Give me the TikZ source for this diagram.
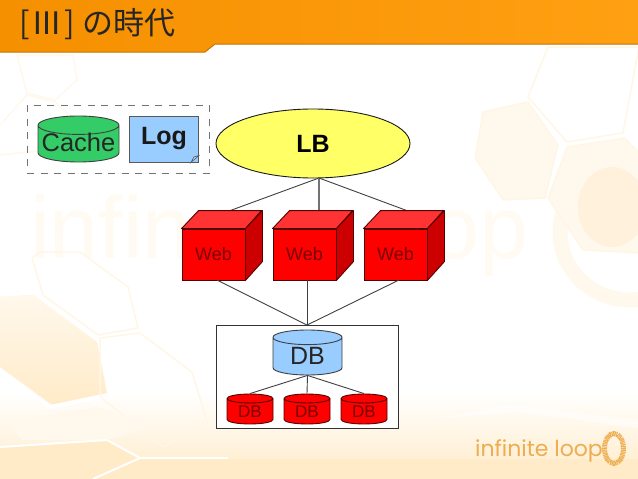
\documentclass[tikz,border=0pt]{standalone}
\usepackage{fontspec}
\setmainfont{Liberation Sans}
\newfontfamily\cjkfont{Noto Sans CJK JP}
\newfontfamily\logofont{Poppins}
\usepackage{xcolor}
\usetikzlibrary{shapes.geometric, calc, positioning}
\definecolor{plotBar}{HTML}{FFA012}
\definecolor{plotBarDark}{HTML}{F59000}
\definecolor{plotRed}{HTML}{FF0000}
\definecolor{plotWebText}{HTML}{770000}
\definecolor{plotBlue}{HTML}{99CCFF}
\definecolor{plotGreen}{HTML}{33CC66}
\definecolor{plotYellow}{HTML}{FFFF66}
\definecolor{plotHex}{HTML}{FFF6E6}
\definecolor{plotHexFill}{HTML}{FFF8EC}
\definecolor{plotRing}{HTML}{FFF1DC}
\definecolor{plotMark}{HTML}{FFFAF2}
\definecolor{plotSand}{HTML}{FFEBC8}
\definecolor{plotLogo}{HTML}{EDAD50}
\begin{document}
\begin{tikzpicture}[x=1pt, y=-1pt,
    conn/.style={draw=black!75, line width=0.9pt},
    connmid/.style={draw=gray!90!black, line width=1.1pt},
    web/.style={rectangle, draw=plotWebText!70!black, fill=plotRed, minimum width=63pt, minimum height=51pt,
      inner sep=0pt, line width=0.9pt, text=plotWebText, font=\fontsize{18}{20}\selectfont},
    webtop/.style={draw=plotWebText!70!black, fill=red!80!white, line width=0.9pt, line join=round},
    webside/.style={draw=plotWebText!70!black, fill=red!80!black, line width=0.9pt, line join=round},
    drum/.style={cylinder, shape border rotate=90, draw=black!75, inner sep=0pt, line width=0.9pt,
      anchor=shape center, cylinder uses custom fill},
    smalldb/.style={drum, aspect=0.38, draw=plotWebText!70!black, cylinder body fill=plotRed, cylinder end fill=plotRed,
      minimum width=46pt, minimum height=30pt, text=plotWebText, font=\fontsize{17}{19}\selectfont},
    watermark/.style={font=\fontsize{88}{90}\selectfont, text=plotMark, inner sep=0pt, anchor=base west},
    hexline/.style={draw=plotHex, line width=1.5pt, line join=round},
    hexfill/.style={hexline, fill=plotHexFill},
    gap/.style={draw=white, line width=2pt}
  ]
  \useasboundingbox (0,0) rectangle (638,479);
  % === Background ===
  \shade[top color=white, bottom color=plotSand] (0,392) rectangle (638,479);
  \node[watermark] (markleft) at (30,258) {infin};
  \node[watermark] (markright) at (430,258) {op};
  \draw[draw=plotHexFill, line width=1.5pt] (17,55) -- (73,55) -- (77,80) -- (55,100) -- (27,93) -- cycle;
  \draw[draw=plotHexFill, line width=1.5pt] (0,125) -- (27,95) -- (55,102) -- (75,120) -- (50,150) -- (0,155);
  \draw[draw=plotHexFill, line width=15pt] (630,232) ellipse (70pt and 68pt);
  \draw[hexline] (528,97) -- (548,47) -- (639,47) -- (623,133) -- (567,142) -- cycle;
  \draw[hexfill] (483,112) -- (528,102) -- (558,145) -- (545,198) -- (503,200) -- (475,158) -- cycle;
  \draw[hexfill] (567,147) -- (625,138) -- (639,153) -- (639,253) -- (583,250) -- (548,198) -- cycle;
  \fill[plotRing] (612,207) ellipse (34pt and 40pt);
  \draw[hexline] (40,252) -- (80,252) -- (128,287) -- (138,328) -- (98,335) -- (43,295) -- (32,258) -- cycle;
  \shade[top color=plotHexFill, bottom color=plotSand, draw=plotHex] (0,297) -- (33,295) -- (97,342) -- (107,393) -- (52,405) -- (0,367) -- cycle;
  \draw[hexline] (100,338) -- (140,333) -- (192,372) -- (208,425) -- (163,447) -- (100,397) -- cycle;
  \fill[plotHexFill] (5,422) -- (97,407) -- (150,427) -- (107,440) -- (23,440) -- cycle;
  \fill[plotSand] (0,447) -- (107,440) -- (140,458) -- (93,479) -- (0,479) -- cycle;
  \fill[plotSand] (140,459) -- (638,459) -- (638,479) -- (95,479) -- cycle;
  \draw[gap] (0,447) -- (107,440) -- (140,458) -- (93,479);
  \draw[gap] (140,458) -- (228,458);
  \draw[gap, line width=4pt] (0,372) -- (50,407) -- (100,397);
  \fill[white, opacity=0.55] (440,418) -- (510,405) -- (638,420) -- (638,428) -- (520,412) -- cycle;

  % === Logo ===
  \node[font=\logofont\fontsize{22}{24}\selectfont, text=plotLogo, inner sep=0pt, anchor=base west] (logo) at (475,456) {infinite loop};
  \node[ellipse, draw=plotLogo, line width=5pt, dash pattern=on 1pt off 0.6pt, minimum width=19pt, minimum height=30pt, inner sep=0pt] (logoring) at (614,448.5) {};

  % === Title ===
  \path[left color=plotBarDark, right color=plotBar, draw=plotBarDark!80!black, line width=1pt]
    (-1,-1) -- (639,-1) -- (639,44) -- (215,44) -- (205,52) -- (-1,52) -- cycle;
  \node[font=\cjkfont\fontsize{31}{33}\selectfont, text=black!85, anchor=west, inner sep=0pt] (title) at (19,24) {[\kern2ptⅢ\kern2pt] の時代};

  % === Cache and Log ===
  \node[rectangle, draw=black!55, dash pattern=on 7pt off 6.5pt, line width=1pt,
    minimum width=182pt, minimum height=68pt] (spare) at (118,139) {};
  \node[drum, aspect=0.25, cylinder body fill=plotGreen, cylinder end fill=plotGreen, minimum width=81pt, minimum height=46pt,
    text=black!85, font=\fontsize{25.5}{28}\selectfont] (cache) at (78.5,139) {\smash{\raisebox{-8pt}{Cache}}};
  \node[rectangle, draw=black!65, fill=plotBlue, minimum width=69pt, minimum height=46pt, inner sep=0pt,
    text=black!90, font=\bfseries\fontsize{25}{27}\selectfont, line width=0.9pt] (log) at (164,139) {\raisebox{3pt}{Log}};
  \draw[draw=black!65, fill=plotBlue!75!white, line width=0.6pt] (log.south east) ++(-8,0) -- ++(8,-7) -- ++(-5,1.5) -- cycle;

  % === LB ===
  \node[ellipse, draw=black!90, fill=plotYellow, minimum width=194pt, minimum height=69pt, inner sep=0pt,
    line width=0.9pt, font=\bfseries\fontsize{25}{27}\selectfont] (lb) at (313,143.5) {LB};
  \coordinate (lbhub) at (319,178);

  % === Web ===
  \coordinate (web1in) at (229,211);
  \coordinate (web2in) at (319,211);
  \coordinate (web3in) at (408,211);
  \draw[conn] (lbhub)--(web1in); \draw[connmid] (lbhub)--(web2in); \draw[conn] (lbhub)--(web3in);
  \node[web] (web1) at (213.5,254.5) {Web};
  \draw[webtop] (web1.north west) -- ++(17,-18) -- ++(63,0) -- (web1.north east) -- cycle;
  \draw[webside] (web1.north east) -- ++(17,-18) -- ++(0,51) -- (web1.south east) -- cycle;
  \node[web] (web2) at (304.5,254.5) {Web};
  \draw[webtop] (web2.north west) -- ++(17,-18) -- ++(63,0) -- (web2.north east) -- cycle;
  \draw[webside] (web2.north east) -- ++(17,-18) -- ++(0,51) -- (web2.south east) -- cycle;
  \node[web] (web3) at (395.5,254.5) {Web};
  \draw[webtop] (web3.north west) -- ++(17,-18) -- ++(63,0) -- (web3.north east) -- cycle;
  \draw[webside] (web3.north east) -- ++(17,-18) -- ++(0,51) -- (web3.south east) -- cycle;

  % === DB ===
  \node[rectangle, draw=black!80, fill=white, minimum width=182pt, minimum height=103pt, line width=0.9pt] (dbbox) at (307,377) {};
  \coordinate (web1out) at (217,280);
  \coordinate (web2out) at (307,280);
  \coordinate (web3out) at (399,280);
  \draw[conn] (web1out)--(dbbox.north); \draw[conn] (web2out)--(dbbox.north); \draw[conn] (web3out)--(dbbox.north);
  \node[drum, aspect=0.42, cylinder body fill=plotBlue, cylinder end fill=plotBlue, minimum width=69pt, minimum height=45pt,
    text=black!85, font=\fontsize{25}{27}\selectfont] (dbmain) at (307.5,352.5) {DB};
  \node[smalldb] (db1) at (250,409) {DB};
  \node[smalldb] (db2) at (307,409) {DB};
  \node[smalldb] (db3) at (364,409) {DB};
  \draw[conn] (dbmain.south)--(db1.north); \draw[conn] (dbmain.south)--(db2.north); \draw[conn] (dbmain.south)--(db3.north);
\end{tikzpicture}
\end{document}
